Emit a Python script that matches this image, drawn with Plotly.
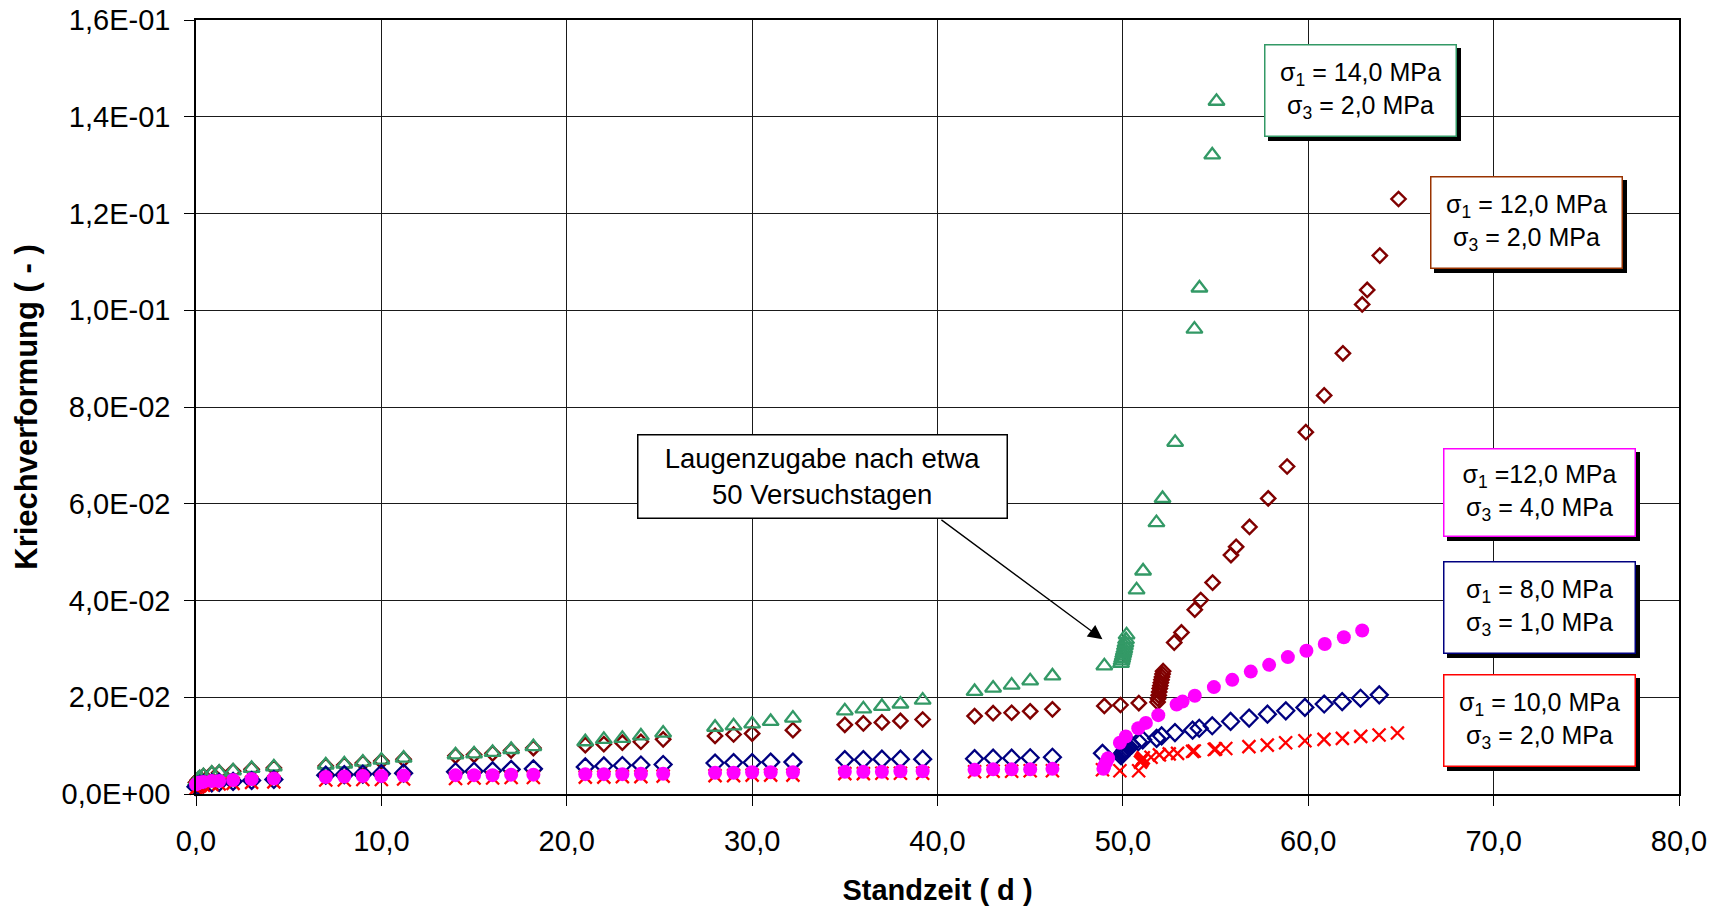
import plotly.graph_objects as go

# ---------------------------------------------------------------- data
# Standzeit in Tagen: wöchentliche Ablesungen vor der Laugenzugabe
tage_basis = [0.0, 0.1, 0.2, 0.4, 0.85, 1.25, 2.0, 3.0, 4.2,
              7.0, 8.0, 9.0, 10.0, 11.2,
              14.0, 15.0, 16.0, 17.0, 18.2,
              21.0, 22.0, 23.0, 24.0, 25.2,
              28.0, 29.0, 30.0, 31.0, 32.2,
              35.0, 36.0, 37.0, 38.0, 39.2,
              42.0, 43.0, 44.0, 45.0, 46.2]

# sigma1 = 14,0 MPa / sigma3 = 2,0 MPa
s14_basis = [0.0025, 0.0030, 0.0034, 0.0038, 0.0043, 0.0045, 0.0048, 0.0053, 0.0056,
             0.0060, 0.0062, 0.0066, 0.0070, 0.0074,
             0.0081, 0.0083, 0.0086, 0.0092, 0.0098,
             0.0108, 0.0113, 0.0115, 0.0120, 0.0126,
             0.0138, 0.0141, 0.0145, 0.0150, 0.0157,
             0.0172, 0.0176, 0.0181, 0.0186, 0.0194,
             0.0212, 0.0219, 0.0225, 0.0234, 0.0244]
s14_tage_nach = [49.0, 49.9, 49.93, 49.96, 49.99, 50.02, 50.05, 50.08, 50.11, 50.14,
                 50.17, 50.2, 50.74, 51.09, 51.81, 52.14, 52.82, 53.86, 54.13, 54.82, 55.05]
s14_nach = [0.0265, 0.0270, 0.0275, 0.0280, 0.0285, 0.0290, 0.0295, 0.0300, 0.0306, 0.0312,
            0.0319, 0.0329, 0.0422, 0.0461, 0.0561, 0.0611, 0.0727, 0.0961, 0.1046, 0.1321, 0.1432]

# sigma1 = 12,0 MPa / sigma3 = 2,0 MPa
s12_basis = [0.0024, 0.0029, 0.0033, 0.0037, 0.0042, 0.0044, 0.0047, 0.0051, 0.0054,
             0.0058, 0.0060, 0.0064, 0.0068, 0.0072,
             0.0079, 0.0081, 0.0084, 0.0090, 0.0095,
             0.0101, 0.0103, 0.0106, 0.0108, 0.0113,
             0.0120, 0.0123, 0.0125, None, 0.0132,
             0.0143, 0.0146, 0.0148, 0.0151, 0.0154,
             0.0161, 0.0167, 0.0168, 0.0171, 0.0175]
s12_tage_nach = [49.0, 49.87, 50.86, 51.87, 51.9, 51.93, 51.96, 51.99, 52.02, 52.05,
                 52.08, 52.11, 52.14, 52.17, 52.77, 53.16, 53.88, 54.2, 54.84, 55.83,
                 56.11, 56.83, 57.84, 58.86, 59.87, 60.86, 61.87, 62.91, 63.18, 63.86, 64.87]
s12_nach = [0.0182, 0.0184, 0.0188, 0.0190, 0.0197, 0.0204, 0.0211, 0.0218, 0.0224, 0.0230,
            0.0236, 0.0242, 0.0248, 0.0254, 0.0313, 0.0334, 0.0381, 0.0401, 0.0437, 0.0494,
            0.0511, 0.0552, 0.0611, 0.0677, 0.0748, 0.0824, 0.0911, 0.1012, 0.1042, 0.1113, 0.1230]

# sigma1 = 12,0 MPa / sigma3 = 4,0 MPa
s12b_basis = [0.0020, 0.0022, 0.0024, 0.0025, 0.0027, 0.0027, 0.0029, 0.0031, 0.0032,
              0.0035, 0.0036, 0.0037, 0.0037, 0.0038,
              0.0039, 0.0039, 0.0039, 0.0040, 0.0040,
              0.0041, 0.0041, 0.0041, 0.0042, 0.0042,
              0.0044, 0.0044, 0.0045, 0.0045, 0.0045,
              0.0046, 0.0046, 0.0046, 0.0047, 0.0047,
              0.0050, 0.0051, 0.0051, 0.0051, 0.0052]
s12b_tage_nach = [48.95, 49.0, 49.1, 49.2, 49.84, 50.16, 50.83, 51.24, 51.91, 52.9, 53.22,
                  53.88, 54.91, 55.9, 56.9, 57.89, 58.9, 59.9, 60.89, 61.92, 62.91]
s12b_nach = [0.0052, 0.0058, 0.0066, 0.0074, 0.0106, 0.0119, 0.0136, 0.0147, 0.0163, 0.0185, 0.0191,
             0.0203, 0.0221, 0.0236, 0.0253, 0.0267, 0.0283, 0.0296, 0.0310, 0.0324, 0.0338]

# sigma1 = 8,0 MPa / sigma3 = 1,0 MPa
s8_basis = [0.0015, 0.0018, 0.0020, 0.0021, 0.0023, 0.0024, 0.0026, 0.0028, 0.0030,
            0.0039, 0.0040, 0.0041, 0.0042, 0.0043,
            0.0046, 0.0047, 0.0048, 0.0051, 0.0052,
            0.0056, 0.0058, 0.0059, 0.0060, 0.0061,
            0.0064, 0.0065, 0.0065, 0.0066, 0.0066,
            0.0071, 0.0071, 0.0072, 0.0072, 0.0072,
            0.0073, 0.0074, 0.0074, 0.0075, 0.0076]
s8_tage_nach = [48.9, 49.9, 49.95, 50.0, 50.05, 50.1, 50.15, 50.2, 50.3, 50.47, 50.83, 51.07,
                51.82, 52.09, 52.81, 53.76, 54.12, 54.82, 55.81, 56.81, 57.8, 58.79, 59.82,
                60.86, 61.83, 62.82, 63.83]
s8_nach = [0.0084, 0.0079, 0.0082, 0.0085, 0.0087, 0.0090, 0.0092, 0.0095, 0.0098, 0.0101, 0.0108, 0.0112,
           0.0115, 0.0120, 0.0127, 0.0132, 0.0136, 0.0141, 0.0150, 0.0157, 0.0165, 0.0172, 0.0179,
           0.0186, 0.0191, 0.0198, 0.0205]

# sigma1 = 10,0 MPa / sigma3 = 2,0 MPa
s10_basis = [0.0012, 0.0015, 0.0017, 0.0018, 0.0020, 0.0021, 0.0022, 0.0024, 0.0025,
             0.0029, 0.0029, 0.0030, 0.0030, 0.0031,
             0.0032, 0.0033, 0.0033, 0.0034, 0.0034,
             0.0035, 0.0035, 0.0036, 0.0036, 0.0037,
             0.0038, 0.0038, 0.0039, 0.0039, 0.0039,
             0.0042, 0.0042, 0.0043, 0.0043, 0.0043,
             0.0046, 0.0047, 0.0047, 0.0048, 0.0048]
s10_tage_nach = [48.9, 49.84, 50.85, 50.95, 51.0, 51.05, 51.1, 51.52, 51.97, 52.5, 52.95,
                 53.76, 53.85, 54.93, 55.0, 55.55, 56.8, 57.79, 58.78, 59.82, 60.85,
                 61.84, 62.83, 63.82, 64.81]
s10_nach = [0.0050, 0.0048, 0.0048, 0.0066, 0.0069, 0.0072, 0.0075, 0.0076, 0.0081, 0.0083, 0.0084,
            0.0088, 0.0089, 0.0092, 0.0093, 0.0094, 0.0098, 0.0101, 0.0106, 0.0110, 0.0113,
            0.0115, 0.0119, 0.0122, 0.0126]

x_ticks = [0, 10, 20, 30, 40, 50, 60, 70, 80]
x_ticktext = ["0,0", "10,0", "20,0", "30,0", "40,0", "50,0", "60,0", "70,0", "80,0"]
y_ticks = [0.0, 0.02, 0.04, 0.06, 0.08, 0.10, 0.12, 0.14, 0.16]
y_ticktext = ["0,0E+00", "2,0E-02", "4,0E-02", "6,0E-02", "8,0E-02",
              "1,0E-01", "1,2E-01", "1,4E-01", "1,6E-01"]

# ---------------------------------------------------------------- styles
FONT = "Liberation Sans, Arial, sans-serif"
GREEN = "#339966"
DARKRED = "#800000"
BROWN = "#993300"
MAGENTA = "#FF00FF"
NAVY = "#000080"
RED = "#FF0000"

fig = go.Figure()


def add_series(x, y, symbol, color, size, line_w=2.0):
    fig.add_trace(go.Scatter(
        x=x, y=y, mode="markers", cliponaxis=False, showlegend=False,
        marker=dict(symbol=symbol, size=size, color=color,
                    line=dict(color=color, width=line_w)),
    ))


add_series(tage_basis + s12_tage_nach, s12_basis + s12_nach, "diamond-open", DARKRED, 11, 2.4)
add_series(tage_basis + s14_tage_nach, s14_basis + s14_nach, "triangle-up-open", GREEN, 14, 2.3)
add_series(tage_basis + s8_tage_nach, s8_basis + s8_nach, "diamond-open", NAVY, 13, 2.3)
add_series(tage_basis + s10_tage_nach, s10_basis + s10_nach, "x-thin", RED, 13, 2.3)
add_series(tage_basis + s12b_tage_nach, s12b_basis + s12b_nach, "circle", MAGENTA, 14, 0)

# ---------------------------------------------------------------- text boxes
boxes = [
    # (x, y, text, border colour, width, height)
    (62.83, 0.14536, "σ<sub>1</sub> = 14,0 MPa<br>σ<sub>3</sub> = 2,0 MPa", GREEN, 190, 90),
    (71.77, 0.11804, "σ<sub>1</sub> = 12,0 MPa<br>σ<sub>3</sub> = 2,0 MPa", BROWN, 190, 90),
    (72.45, 0.06242, "σ<sub>1</sub> =12,0 MPa<br>σ<sub>3</sub> = 4,0 MPa", MAGENTA, 190, 86),
    (72.45, 0.03857, "σ<sub>1</sub> = 8,0 MPa<br>σ<sub>3</sub> = 1,0 MPa", NAVY, 190, 90),
    (72.45, 0.01513, "σ<sub>1</sub> = 10,0 MPa<br>σ<sub>3</sub> = 2,0 MPa", RED, 190, 90),
]

annotations = []
for bx, by, txt, col, w, h in boxes:
    # drop shadow
    annotations.append(dict(
        x=bx, y=by, xref="x", yref="y", text="", showarrow=False,
        width=w, height=h, bgcolor="black", borderpad=0, borderwidth=1.5,
        bordercolor="black", xshift=4, yshift=-4,
    ))
    annotations.append(dict(
        x=bx, y=by, xref="x", yref="y", text=txt, showarrow=False,
        width=w, height=h, bgcolor="white", borderpad=0, borderwidth=1.5,
        bordercolor=col, align="center", valign="middle",
        font=dict(family=FONT, size=25, color="black"),
    ))

# arrow towards the brine addition
annotations.append(dict(
    x=48.9, y=0.0320, xref="x", yref="y", ax=40.13, ay=0.0569, axref="x", ayref="y",
    text="", showarrow=True, arrowhead=2, arrowsize=2.2, arrowwidth=1.3, arrowcolor="black",
))
annotations.append(dict(
    x=33.82, y=0.06556, xref="x", yref="y",
    text="Laugenzugabe nach etwa<br>50 Versuchstagen", showarrow=False,
    width=368, height=82, bgcolor="white", borderpad=0, borderwidth=1.5,
    bordercolor="black", align="center", valign="middle",
    font=dict(family=FONT, size=27.5, color="black"),
))

axis_common = dict(
    showline=True, linecolor="black", linewidth=1.5, mirror=True,
    showgrid=True, gridcolor="#1a1a1a", gridwidth=1,
    ticks="outside", ticklen=10, tickcolor="black", tickwidth=1,
    zeroline=False, automargin=False,
    tickfont=dict(family=FONT, size=29, color="black"),
)

fig.update_layout(
    width=1725, height=911,
    margin=dict(l=196, r=46, t=20, b=117),
    paper_bgcolor="white", plot_bgcolor="white",
    font=dict(family=FONT, color="black"),
    annotations=annotations,
    xaxis=dict(
        range=[0, 80], tickvals=x_ticks, ticktext=x_ticktext,
        title=dict(text="<b>Standzeit ( d )</b>", font=dict(family=FONT, size=29), standoff=24),
        ticklabelstandoff=10,
        **axis_common,
    ),
    yaxis=dict(
        range=[0, 0.16], tickvals=y_ticks, ticktext=y_ticktext,
        title=dict(text="<b>Kriechverformung ( - )</b>", font=dict(family=FONT, size=31), standoff=15),
        ticklabelstandoff=8,
        **axis_common,
    ),
)

fig.write_html("out.html")
